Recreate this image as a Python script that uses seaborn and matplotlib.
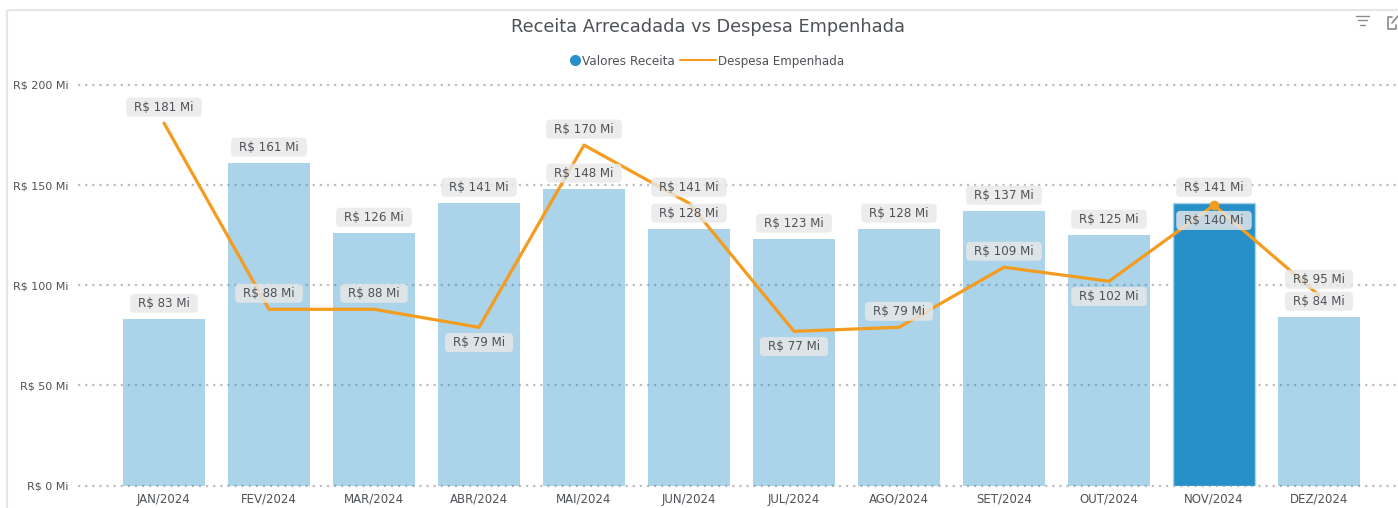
from __future__ import annotations

import matplotlib
matplotlib.use("Agg")
import matplotlib.pyplot as plt
import numpy as np
import seaborn as sns
from matplotlib.lines import Line2D
from matplotlib.patches import BoxStyle, FancyBboxPatch

MONTHS = ["JAN/2024", "FEV/2024", "MAR/2024", "ABR/2024", "MAI/2024", "JUN/2024",
          "JUL/2024", "AGO/2024", "SET/2024", "OUT/2024", "NOV/2024", "DEZ/2024"]
RECEITA = [83, 161, 126, 141, 148, 128, 123, 128, 137, 125, 141, 84]
DESPESA = [181, 88, 88, 79, 170, 141, 77, 79, 109, 102, 140, 95]
# which side of the line each despesa label sits on
DESPESA_SIDE = ["up", "up", "up", "down", "up", "up", "down", "up", "up", "down", "down", "up"]
Y_TICKS = [0, 50, 100, 150, 200]
SELECTED = "NOV/2024"

BLUE = "#2790c8"
ORANGE = "#f39c1f"
TEXT = "#4e5256"
W, H = 1398, 508


def money(v: float) -> str:
    return f"R$ {v:.0f} Mi"


def label_box(x0, y0, width, height, mutation_size):
    # wider than tall padding, pixels at dpi=100
    return BoxStyle.Round(pad=0, rounding_size=0.35)(x0 - 8, y0 - 3, width + 16, height + 6, mutation_size)


def add_label(ax, x, y, text, dy):
    ann = ax.annotate(text, (x, y), xytext=(0, dy), textcoords="offset points", ha="center", va="center",
                      fontsize=8.6, color=TEXT, zorder=6, annotation_clip=False,
                      bbox=dict(fc=(0.91, 0.91, 0.91, 0.82), ec="none"))
    ann.get_bbox_patch().set_boxstyle(label_box)


def add_card_and_icons(fig):
    card = FancyBboxPatch((7 / W, -0.2), 1.2, 0.2 + (H - 10) / H, boxstyle="round,pad=0,rounding_size=0.006",
                          transform=fig.transFigure, fc="white", ec="#e6e6e6", lw=1.5, zorder=-5,
                          mutation_aspect=H / W)
    fig.add_artist(card)
    # filter icon
    for y, x0, x1 in [(15.5, 1356, 1369), (19.5, 1358, 1367), (24.5, 1360, 1365)]:
        fig.add_artist(Line2D([x0 / W, x1 / W], [1 - y / H] * 2, color="#8a8a8a", lw=1))
    # focus icon
    fig.add_artist(Line2D(np.array([1392, 1388, 1388, 1396, 1396]) / W,
                          1 - np.array([17, 17, 29, 29, 25]) / H, color="#8a8a8a", lw=1.2))
    fig.add_artist(Line2D(np.array([1392, 1398]) / W, 1 - np.array([23, 16]) / H, color="#8a8a8a", lw=1.2))


def add_legend(fig):
    y = 1 - 60 / H
    fig.add_artist(Line2D([574.5 / W], [y], color=BLUE, marker="o", markersize=8, markeredgewidth=0))
    fig.text(582 / W, y, "Valores Receita", ha="left", va="center_baseline", fontsize=8.7, color=TEXT)
    fig.add_artist(Line2D([680 / W, 716 / W], [y, y], color=ORANGE, lw=1.5))
    fig.text(718 / W, y, "Despesa Empenhada", ha="left", va="center_baseline", fontsize=8.6, color=TEXT)


def main() -> None:
    sns.set_theme(style="white")
    plt.rcParams["font.family"] = ["DejaVu Sans"]

    fig = plt.figure(figsize=(W / 100, H / 100), dpi=100)
    ax = fig.add_axes([78 / W, 1 - 485.5 / H, 1 - 78 / W, 400.5 / H])
    add_card_and_icons(fig)
    ax.patch.set_alpha(0)

    palette = {m: BLUE for m in MONTHS}
    sns.barplot(x=MONTHS, y=RECEITA, hue=MONTHS, palette=palette, legend=False, width=0.79,
                saturation=1, linewidth=0, ax=ax, zorder=2)
    for bar, month in zip(ax.patches, MONTHS):
        if month == SELECTED:
            bar.set_edgecolor("#abd3ea")
            bar.set_linewidth(1)
        else:
            bar.set_alpha(0.39)

    xs = np.arange(len(MONTHS))
    sns.lineplot(x=xs, y=DESPESA, color=ORANGE, lw=2.3, sort=False, ax=ax, zorder=3,
                 marker="o", markersize=7, markeredgewidth=0, markevery=[MONTHS.index(SELECTED)])

    ax.set_xlim((78 - 164) / 105, (W - 164) / 105)
    ax.set_ylim(0, 200)
    ax.set_yticks(Y_TICKS)
    ax.set_yticklabels([money(v) for v in Y_TICKS], fontsize=8, color=TEXT)
    ax.set_xticks(xs)
    ax.set_xticklabels(MONTHS, fontsize=8.5, color=TEXT, va="center_baseline")
    ax.tick_params(axis="both", length=0)
    ax.tick_params(axis="x", pad=9)
    ax.tick_params(axis="y", pad=6.5)
    ax.set_ylabel("")
    ax.yaxis.grid(True, color="#bdbdbd", lw=1.6, linestyle=(0, (1, 2.2)), zorder=1, clip_on=False)
    ax.set_axisbelow(True)
    sns.despine(ax=ax, left=True, bottom=True, top=True, right=True)

    for i, v in enumerate(RECEITA):
        add_label(ax, i, v, money(v), 11.5)
    for i, (v, side) in enumerate(zip(DESPESA, DESPESA_SIDE)):
        add_label(ax, i, v, money(v), 11.5 if side == "up" else -11)

    fig.text(708 / W, 1 - 27 / H, "Receita Arrecadada vs Despesa Empenhada", ha="center", va="center",
             fontsize=12.8, color=TEXT)
    add_legend(fig)

    fig.savefig("out.png", dpi=100)


if __name__ == "__main__":
    main()
